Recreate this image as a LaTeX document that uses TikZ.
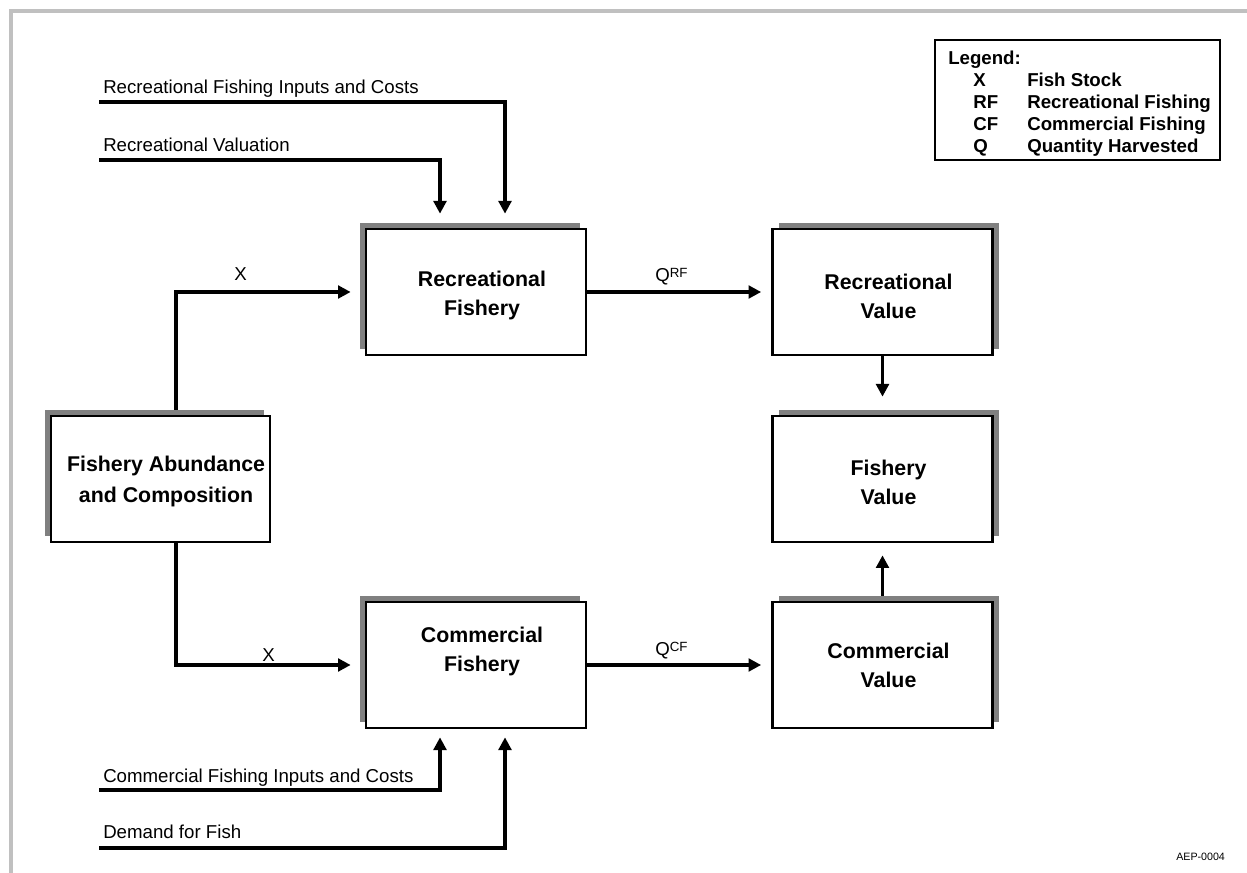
\documentclass[tikz,border=0pt]{standalone}
\usepackage{fontspec}
\setmainfont{Liberation Sans}
\usetikzlibrary{arrows.meta,shadows,backgrounds}
\definecolor{shadegray}{RGB}{128,128,128}
\definecolor{framegray}{RGB}{192,192,192}
\begin{document}
\begin{tikzpicture}[x=0.75pt,y=-0.75pt,
  box/.style={draw=black, line width=2pt, fill=white, minimum width=165pt, minimum height=94.5pt,
    inner sep=0pt},
  boxtext/.style={inner sep=0pt, align=center, font=\fontsize{16}{21.75}\selectfont\bfseries},
  lshadow/.style={drop shadow={shadow xshift=-4.5pt, shadow yshift=4.5pt, fill=shadegray, opacity=1}},
  rshadow/.style={drop shadow={shadow xshift=4.5pt, shadow yshift=4.5pt, fill=shadegray, opacity=1}},
  conn/.style={line width=2.8pt, -{Triangle[length=9.5pt,width=9.5pt]}},
  lbl/.style={font=\fontsize{14}{16}\selectfont, anchor=base west, inner sep=0pt},
  leg/.style={font=\fontsize{14}{16}\selectfont\bfseries, anchor=base west, inner sep=0pt},
  tag/.style={font=\fontsize{8}{10}\selectfont, anchor=base west, inner sep=0pt}]

\useasboundingbox (0,0) rectangle (1247,873);
\draw[framegray, line width=3pt] (11,873) -- (11,11) -- (1247,11);

% boxes
\node[box, lshadow] (RF) at (476,292) {};
\node[box, rshadow] (RV) at (882.5,292) {};
\node[box, rshadow] (FV) at (882.5,479) {};
\node[box, rshadow] (CV) at (882.5,665) {};
\node[box, lshadow] (CF) at (476,665) {};
\node[box, lshadow, minimum width=164.25pt] (FA) at (160.5,479) {};

% box texts
\node[boxtext] (RFt) at ([xshift=4.5pt,yshift=-2.6pt]RF.center) {Recreational\\Fishery};
\node[boxtext] (RVt) at ([xshift=4.5pt,yshift=-3.4pt]RV.center) {Recreational\\Value};
\node[boxtext] (FVt) at ([xshift=4.5pt,yshift=-2.6pt]FV.center) {Fishery\\Value};
\node[boxtext] (CVt) at ([xshift=4.5pt,yshift=-0.4pt]CV.center) {Commercial\\Value};
\node[boxtext] (CFt) at ([xshift=4.5pt,yshift=10.1pt]CF.center) {Commercial\\Fishery};
\node[boxtext, font=\fontsize{16}{23.25}\selectfont\bfseries] (FAt) at ([xshift=4.2pt,yshift=-1.9pt]FA.center) {Fishery Abundance\\and Composition};

% free-end coordinates
\coordinate (xa) at (176,291);
\coordinate (ri) at (99,102);
\coordinate (ric) at (505,102);
\coordinate (rv) at (99,160);
\coordinate (rvc) at (440,160);
\coordinate (ci) at (99,790);
\coordinate (cic) at (440,790);
\coordinate (df) at (99,848);
\coordinate (dfc) at (505,848);

\begin{scope}[on background layer]
\draw[conn, shorten >=10.5pt] (FA.north -| xa) |- (RF.west);
\draw[conn, shorten >=10.5pt] (FA.south -| xa) |- (CF.west);
\draw[conn, shorten >=7.5pt] (RF.east) -- (RV.west);
\draw[conn, shorten >=7.5pt] (CF.east) -- (CV.west);
\draw[conn, shorten >=13.5pt] (RV.south) -- (FV.north);
\draw[conn, shorten >=9pt] (CV.north) -- (FV.south);
\draw[conn, shorten >=10.5pt] (ri) -| (RF.north -| ric);
\draw[conn, shorten >=10.5pt] (rv) -| (RF.north -| rvc);
\draw[conn, shorten >=6pt] (ci) -| (CF.south -| cic);
\draw[conn, shorten >=6pt] (df) -| (CF.south -| dfc);
\end{scope}

% connector labels
\node[lbl] (l1) at (103,94) {Recreational Fishing Inputs and Costs};
\node[lbl] (l2) at (103,152) {Recreational Valuation};
\node[lbl] (l3) at (103,782) {Commercial Fishing Inputs and Costs};
\node[lbl] (l4) at (103,838) {Demand for Fish};
\node[lbl] (x1) at (234,281) {X};
\node[lbl] (x2) at (262,662) {X};
\node[lbl] (q1) at (655,282) {Q\raisebox{3pt}{\fontsize{10}{12}\selectfont RF}};
\node[lbl] (q2) at (655,656) {Q\raisebox{3pt}{\fontsize{10}{12}\selectfont CF}};

% legend
\node[draw, line width=1.5pt, minimum width=213.75pt, minimum height=90pt, inner sep=0pt] (legend) at (1077.5,100) {};
\node[leg] (lg) at (948,65) {Legend:};
\node[leg] (k1) at (973,87) {X};
\node[leg] (v1) at (1027,87) {Fish Stock};
\node[leg] (k2) at (973,109) {RF};
\node[leg] (v2) at (1027,109) {Recreational Fishing};
\node[leg] (k3) at (973,131) {CF};
\node[leg] (v3) at (1027,131) {Commercial Fishing};
\node[leg] (k4) at (973,153) {Q};
\node[leg] (v4) at (1027,153) {Quantity Harvested};

\node[tag] (aep) at (1176,860) {AEP-0004};
\end{tikzpicture}
\end{document}
